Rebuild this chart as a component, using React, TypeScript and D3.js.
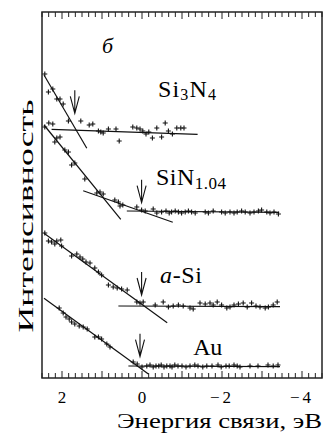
import React, { useRef, useEffect } from "react";
import * as d3 from "d3";

const WIDTH = 326;
const HEIGHT = 434;

// binding energy (eV) and intensity (arb. units) for each spectrum
const si3n4Energy = [2.43, 2.34, 2.23, 2.13, 2.05, 1.97, 1.84, 1.53, 1.32, 1.23, 1.09, 1.03, 0.97, 0.84, 0.65, 0.57, 0.23, 0.13, 0.05, -0.02, -0.1, -0.17, -0.26, -0.37, -0.49, -0.58, -0.66, -0.76, -0.87, -0.97, -1.05];
const si3n4Intensity = [304, 286, 289, 279, 279, 274, 257, 257, 253, 254, 247, 246, 245, 249, 249, 237, 251, 250, 249, 247, 244, 246, 240, 250, 241, 255, 247, 244, 250, 250, 250];

const sinEnergy = [2.43, 2.33, 2.23, 2.18, 2.13, 2.05, 1.93, 1.84, 1.76, 1.68, 1.43, 1.13, 1.05, 0.97, 0.68, 0.59, 0.55, 0.48, 0.13, 0.01, -0.08, -0.28, -0.37, -0.49, -0.6, -0.68, -0.74, -0.83, -0.91, -0.99, -1.08, -1.16, -1.24, -1.33, -1.58, -1.66, -1.78, -1.99, -2.08, -2.2, -2.3, -2.38, -2.49, -2.58, -2.7, -2.8, -2.91, -2.99, -3.12, -3.2, -3.3, -3.41];
const sinIntensity = [251, 255, 254, 236, 240, 241, 228, 226, 213, 215, 199, 185, 186, 184, 178, 176, 172, 173, 171, 168, 167, 169, 165, 166, 167, 165, 166, 167, 166, 165, 166, 167, 166, 165, 166, 165, 167, 166, 165, 166, 165, 166, 167, 166, 165, 166, 167, 168, 166, 165, 166, 164];

const aSiEnergy = [2.43, 2.34, 2.26, 2.18, 2.13, 2.03, 2.01, 1.76, 1.63, 1.55, 1.48, 1.4, 1.3, 1.18, 1.09, 1.01, 0.84, 0.72, 0.62, 0.51, 0.37, 0.13, 0.05, -0.03, -0.33, -0.53, -0.66, -0.78, -0.91, -1.03, -1.2, -1.28, -1.45, -1.58, -1.7, -1.78, -1.88, -1.99, -2.12, -2.2, -2.3, -2.41, -2.53, -2.63, -2.74, -2.85, -2.95, -3.08, -3.16, -3.28, -3.38];
const aSiIntensity = [145, 137, 136, 134, 137, 138, 132, 122, 124, 121, 119, 116, 115, 110, 106, 103, 93, 91, 90, 89, 88, 76, 75, 76, 73, 76, 71, 72, 73, 72, 70, 69, 75, 74, 75, 73, 76, 73, 70, 71, 73, 74, 75, 71, 75, 72, 71, 70, 71, 73, 76];

const auEnergy = [2.07, 1.97, 1.9, 1.82, 1.76, 1.68, 1.57, 1.47, 1.37, 1.18, 1.09, 1.01, 0.88, 0.8, 0.22, 0.12, 0.0, -0.12, -0.2, -0.28, -0.35, -0.42, -0.48, -0.55, -0.62, -0.7, -0.75, -0.82, -0.9, -1.0, -1.1, -1.2, -1.32, -1.4, -1.52, -1.62, -1.75, -1.9, -1.98, -2.1, -2.18, -2.3, -2.38, -2.45, -2.7, -2.9, -3.15, -3.28, -3.4];
const auIntensity = [70, 65, 61, 59, 56, 54, 52, 51, 49, 41, 41, 39, 34, 31, 16, 14, 11, 12, 13, 11, 12, 12, 13, 11, 12, 12, 11, 13, 12, 12, 11, 12, 13, 12, 11, 12, 12, 13, 11, 12, 12, 13, 12, 11, 12, 12, 13, 12, 13];

// fitted straight lines: [energy1, intensity1, energy2, intensity2]
const si3n4Fits = [[2.45, 303, 1.38, 229.7], [2.26, 248.7, -1.39, 243.7]];
const sinFits = [[2.45, 253, 0.53, 158.7], [1.47, 187.3, -0.77, 155.7], [0.38, 167, -3.43, 165.7]];
const aSiFits = [[2.45, 144.7, -0.63, 55.3], [0.59, 72, -3.45, 71.3]];
const auFits = [[2.45, 79.7, -0.16, 4], [0.34, 12, -3.45, 11.3]];

// arrows mark the band edge (tip position)
const arrowEnergy = [1.68, 0.01, 0.01, 0.05];
const arrowIntensity = [264.7, 175.3, 83, 21.3];

// labels: main text and position
const labelMain = ["Si", "SiN", "-Si", "Au"];
const labelEnergy = [-0.4, -0.35, -0.45, -1.28];
const labelIntensity = [281, 193, 95, 23];

const xTickValues = [2, 0, -2, -4];

export default function App() {
  const svgRef = useRef<SVGSVGElement>(null);

  useEffect(() => {
    const svg = d3.select(svgRef.current);
    svg.selectAll("*").remove();

    const x = d3.scaleLinear().domain([2.5, -4.5]).range([42, 322]);
    const y = d3.scaleLinear().domain([0, 366]).range([378, 12]);
    const [x0, x1] = x.range();
    const [yb, yt] = y.range();

    const serif = '"Liberation Serif", "DejaVu Serif", serif';

    // frame
    svg
      .append("rect")
      .attr("x", x0)
      .attr("y", yt)
      .attr("width", x1 - x0)
      .attr("height", yb - yt)
      .attr("fill", "none")
      .attr("stroke", "#222")
      .attr("stroke-width", 1.5);

    // ticks every 1/6 eV, longer ones on whole numbers
    const tickIdx = d3.range(-27, 16);
    const ticks = svg.append("g").attr("stroke", "#222").attr("stroke-width", 1);
    tickIdx.forEach((i) => {
      const xv = x(i / 6);
      const len = i % 6 === 0 ? 7 : 5;
      ticks.append("line").attr("x1", xv).attr("x2", xv).attr("y1", yt).attr("y2", yt + len);
      ticks.append("line").attr("x1", xv).attr("x2", xv).attr("y1", yb).attr("y2", yb - len);
    });

    svg
      .append("g")
      .selectAll("text")
      .data(xTickValues)
      .join("text")
      .attr("x", (d) => x(d))
      .attr("y", 403)
      .attr("text-anchor", "middle")
      .style("font-family", serif)
      .attr("font-size", 17)
      .attr("letter-spacing", (d) => (d < 0 ? "3px" : "0px"))
      .text((d) => (d < 0 ? "\u2212" + Math.abs(d) : String(d)));

    svg
      .append("text")
      .attr("x", x1)
      .attr("y", 428)
      .attr("text-anchor", "end")
      .style("font-family", serif)
      .attr("font-size", 20)
      .attr("textLength", 205)
      .attr("lengthAdjust", "spacingAndGlyphs")
      .text("Энергия связи, эВ");

    svg
      .append("text")
      .attr("transform", "translate(33,216) rotate(-90)")
      .attr("text-anchor", "middle")
      .style("font-family", serif)
      .attr("font-size", 22)
      .attr("textLength", 233)
      .attr("lengthAdjust", "spacingAndGlyphs")
      .text("Интенсивность");

    svg
      .append("text")
      .attr("x", x(1.0))
      .attr("y", y(325))
      .style("font-family", serif)
      .attr("font-style", "italic")
      .attr("font-size", 22)
      .text("б");

    const series = [
      { energy: si3n4Energy, intensity: si3n4Intensity, fits: si3n4Fits },
      { energy: sinEnergy, intensity: sinIntensity, fits: sinFits },
      { energy: aSiEnergy, intensity: aSiIntensity, fits: aSiFits },
      { energy: auEnergy, intensity: auIntensity, fits: auFits },
    ];

    series.forEach((s) => {
      const g = svg.append("g");
      g.selectAll("line")
        .data(s.fits)
        .join("line")
        .attr("x1", (d) => x(d[0]))
        .attr("y1", (d) => y(d[1]))
        .attr("x2", (d) => x(d[2]))
        .attr("y2", (d) => y(d[3]))
        .attr("stroke", "#111")
        .attr("stroke-width", 1.2);

      g.selectAll("path")
        .data(d3.range(s.energy.length))
        .join("path")
        .attr("transform", (i) => `translate(${x(s.energy[i])},${y(s.intensity[i])})`)
        .attr("d", "M-2.5,0H2.5M0,-2.5V2.5")
        .attr("stroke", "#111")
        .attr("stroke-width", 1.1)
        .attr("fill", "none");
    });

    // arrows
    svg
      .append("g")
      .selectAll("path")
      .data(d3.range(arrowEnergy.length))
      .join("path")
      .attr("d", (i) => {
        const ax = x(arrowEnergy[i]);
        const ay = y(arrowIntensity[i]);
        return `M${ax},${ay - 23}V${ay}M${ax - 4.5},${ay - 17}L${ax},${ay}L${ax + 4.5},${ay - 17}`;
      })
      .attr("stroke", "#111")
      .attr("stroke-width", 1.1)
      .attr("fill", "none");

    // spectrum labels
    const labels = svg.append("g").style("font-family", serif).attr("font-size", 24);
    const lx = (i: number) => x(labelEnergy[i]);
    const ly = (i: number) => y(labelIntensity[i]);

    const t0 = labels.append("text").attr("x", lx(0)).attr("y", ly(0)).attr("textLength", 58);
    t0.append("tspan").text(labelMain[0]);
    t0.append("tspan").attr("font-size", 16).attr("dy", 3).text("3");
    t0.append("tspan").attr("dy", -3).text("N");
    t0.append("tspan").attr("font-size", 16).attr("dy", 3).text("4");

    const t1 = labels.append("text").attr("x", lx(1)).attr("y", ly(1)).attr("textLength", 70);
    t1.append("tspan").text(labelMain[1]);
    t1.append("tspan").attr("font-size", 17).attr("dy", 4).text("1.04");

    const t2 = labels.append("text").attr("x", lx(2)).attr("y", ly(2)).attr("textLength", 42);
    t2.append("tspan").attr("font-style", "italic").text("a");
    t2.append("tspan").text(labelMain[2]);

    labels.append("text").attr("x", lx(3)).attr("y", ly(3)).attr("textLength", 29).text(labelMain[3]);
  }, []);

  return (
    <svg
      ref={svgRef}
      width={WIDTH}
      height={HEIGHT}
      style={{ position: "absolute", left: 0, top: 0, background: "#fff" }}
    />
  );
}
